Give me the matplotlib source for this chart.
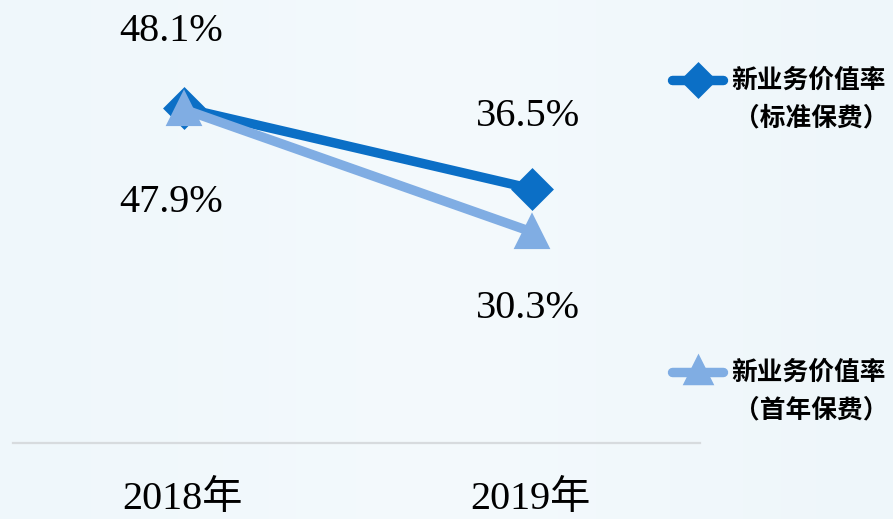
import matplotlib
matplotlib.use("Agg")
import matplotlib.pyplot as plt
from matplotlib.lines import Line2D
from matplotlib.colors import LinearSegmentedColormap
import numpy as np

years = ["2018年", "2019年"]
series_names = ["新业务价值率\n（标准保费）", "新业务价值率\n（首年保费）"]
standard = [48.1, 36.5]
first_year = [47.9, 30.3]

W, H = 893, 519
fig = plt.figure(figsize=(W / 100, H / 100), dpi=100)

# background gradient
bg = fig.add_axes([0, 0, 1, 1], zorder=-10)
grad = np.linspace(0, 1, 256).reshape(1, -1)
cmap = LinearSegmentedColormap.from_list("bg", ["#eff7fb", "#f4fafd", "#eef6fa"])
bg.imshow(grad, aspect="auto", cmap=cmap, extent=[0, 1, 0, 1])
bg.set_axis_off()

def fx(px):
    return px / W

def fy(py):
    return 1 - py / H

ax = fig.add_axes([fx(13), fy(443), fx(700) - fx(13), fy(0) - fy(443)])
ax.patch.set_alpha(0)
ax.set_xlim(-0.491, 1.483)
ax.set_ylim(0, 63.6)
for s in ax.spines.values():
    s.set_visible(False)
ax.spines["bottom"].set_visible(True)
ax.spines["bottom"].set_color("#d7dbde")
ax.spines["bottom"].set_linewidth(1.6)
ax.set_yticks([])
ax.set_xticks([])

x = np.arange(len(years))
dark = "#0b6fc6"
light = "#80ade3"
ax.plot(x, standard, color=dark, lw=6.8, marker="D", ms=19, mec=dark, mew=2.5,
        solid_capstyle="round", solid_joinstyle="round", zorder=3, clip_on=False)
ax.plot(x, first_year, color=light, lw=6.8, marker="^", ms=21, mec=light, mew=3,
        solid_capstyle="round", solid_joinstyle="round", zorder=4, clip_on=False)

lab_font = dict(family=["Liberation Serif", "DejaVu Serif"], fontsize=29, color="black",
                ha="center", va="center")
# value labels
ax.annotate(f"{standard[0]:.1f}%", (x[0], standard[0]), xytext=(-9, 55),
            textcoords="offset points", **lab_font)
ax.annotate(f"{first_year[0]:.1f}%", (x[0], first_year[0]), xytext=(-9, -67),
            textcoords="offset points", **lab_font)
ax.annotate(f"{standard[1]:.1f}%", (x[1], standard[1]), xytext=(-3, 52),
            textcoords="offset points", **lab_font)
ax.annotate(f"{first_year[1]:.1f}%", (x[1], first_year[1]), xytext=(-3, -55),
            textcoords="offset points", **lab_font)

# year labels
for xi, yl in zip(x, years):
    ax.annotate(yl, (xi, 0), xytext=(-1, -41), textcoords="offset points",
                family=["Liberation Serif", "Noto Sans CJK SC"], fontsize=29,
                ha="center", va="center", color="black", annotation_clip=False)

# legend
leg_y = [80, 372]
colors = [dark, light]
markers = ["D", "^"]
msz = [16, 19]
for yy, c, m, ms, name in zip(leg_y, colors, markers, msz, series_names):
    fig.add_artist(Line2D([fx(672), fx(723)], [fy(yy), fy(yy)], color=c, lw=6.8,
                          solid_capstyle="round", transform=fig.transFigure))
    fig.add_artist(Line2D([fx(698)], [fy(yy - (2 if m == "^" else 0))], color=c, marker=m,
                          ms=ms, mec=c, mew=2.5, transform=fig.transFigure))
    l1, l2 = name.split("\n")
    fig.text(fx(809), fy(yy), l1, family=["Noto Sans CJK SC"], fontsize=18.5,
             fontweight="bold", ha="center", va="center", color="black")
    fig.text(fx(811), fy(yy + 38), l2, family=["Noto Sans CJK SC"], fontsize=18.5,
             fontweight="bold", ha="center", va="center", color="black")

fig.savefig("out.png", dpi=100)
